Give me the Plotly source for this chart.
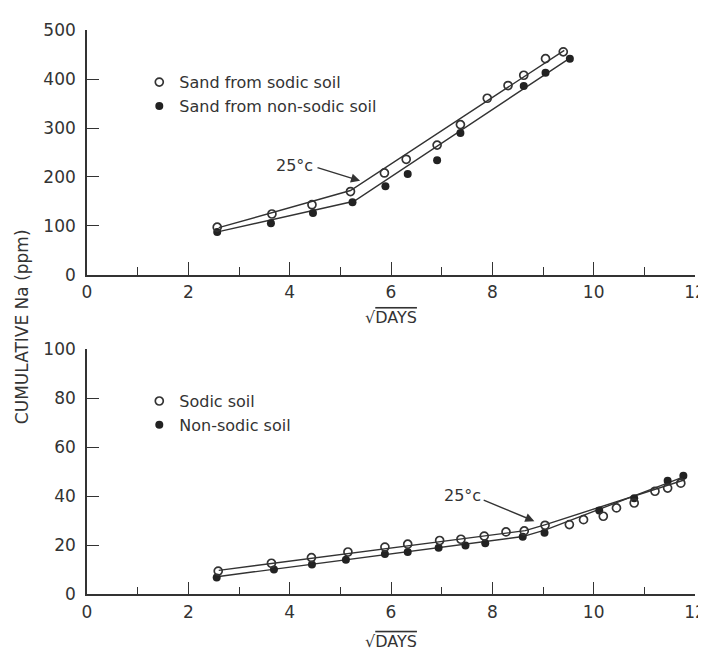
import plotly.graph_objects as go

# ---------------- data ----------------
# Top panel: sand
sand_sodic_x = [2.57, 3.65, 4.44, 5.20, 5.87, 6.30, 6.91, 7.37, 7.90, 8.31, 8.62, 9.05, 9.40]
sand_sodic_y = [97, 124, 143, 170, 208, 236, 265, 307, 361, 387, 408, 442, 456]
sand_non_x = [2.57, 3.63, 4.46, 5.24, 5.89, 6.33, 6.91, 7.37, 8.62, 9.05, 9.53]
sand_non_y = [87, 105, 126, 148, 181, 206, 234, 290, 386, 413, 442]
sand_sodic_fit_x = [2.6, 5.2, 9.42]
sand_sodic_fit_y = [96, 172, 459]
sand_non_fit_x = [2.6, 5.27, 9.53]
sand_non_fit_y = [88, 150, 443]

# Bottom panel: soil
soil_sodic_x = [2.59, 3.64, 4.43, 5.15, 5.88, 6.33, 6.96, 7.38, 7.84, 8.27, 8.63, 9.04,
                9.52, 9.80, 10.19, 10.45, 10.80, 11.21, 11.46, 11.72]
soil_sodic_y = [9.5, 12.7, 15.0, 17.3, 19.3, 20.5, 22.0, 22.5, 23.8, 25.5, 25.9, 28.2,
                28.5, 30.5, 31.9, 35.3, 37.3, 42.1, 43.4, 45.4]
soil_non_x = [2.56, 3.69, 4.44, 5.11, 5.88, 6.33, 6.94, 7.47, 7.86, 8.60, 9.03,
              10.11, 10.80, 11.46, 11.77]
soil_non_y = [6.9, 10.1, 12.2, 14.1, 16.5, 17.3, 19.0, 20.0, 20.9, 23.5, 25.2,
              34.2, 39.2, 46.4, 48.4]
soil_sodic_fit_x = [2.6, 8.65, 9.05, 11.8]
soil_sodic_fit_y = [9.8, 26.0, 28.5, 46.8]
soil_non_fit_x = [2.6, 8.6, 9.05, 11.8]
soil_non_fit_y = [7.3, 23.6, 26.3, 48.2]

x_ticks = [0, 2, 4, 6, 8, 10, 12]
top_y_ticks = [0, 100, 200, 300, 400, 500]
bot_y_ticks = [0, 20, 40, 60, 80, 100]

INK = "#333333"
FONT = "DejaVu Sans"

fig = go.Figure()

line_style = dict(color=INK, width=1.4)
open_marker = dict(symbol="circle-open", size=8, color=INK, line=dict(width=1.7, color=INK))
fill_marker = dict(symbol="circle", size=8, color="#222222")

# top panel
fig.add_trace(go.Scatter(x=sand_sodic_fit_x, y=sand_sodic_fit_y, mode="lines", line=line_style,
                         showlegend=False, xaxis="x", yaxis="y", hoverinfo="skip"))
fig.add_trace(go.Scatter(x=sand_non_fit_x, y=sand_non_fit_y, mode="lines", line=line_style,
                         showlegend=False, xaxis="x", yaxis="y", hoverinfo="skip"))
fig.add_trace(go.Scatter(x=sand_non_x, y=sand_non_y, mode="markers", marker=fill_marker,
                         name="Sand from non-sodic soil", xaxis="x", yaxis="y", legend="legend",
                         legendrank=2))
fig.add_trace(go.Scatter(x=sand_sodic_x, y=sand_sodic_y, mode="markers", marker=open_marker,
                         name="Sand from sodic soil", xaxis="x", yaxis="y", legend="legend",
                         legendrank=1))

# bottom panel
fig.add_trace(go.Scatter(x=soil_sodic_fit_x, y=soil_sodic_fit_y, mode="lines", line=line_style,
                         showlegend=False, xaxis="x2", yaxis="y2", hoverinfo="skip"))
fig.add_trace(go.Scatter(x=soil_non_fit_x, y=soil_non_fit_y, mode="lines", line=line_style,
                         showlegend=False, xaxis="x2", yaxis="y2", hoverinfo="skip"))
fig.add_trace(go.Scatter(x=soil_non_x, y=soil_non_y, mode="markers", marker=fill_marker,
                         name="Non-sodic soil", xaxis="x2", yaxis="y2", legend="legend2",
                         legendrank=2))
fig.add_trace(go.Scatter(x=soil_sodic_x, y=soil_sodic_y, mode="markers", marker=open_marker,
                         name="Sodic soil", xaxis="x2", yaxis="y2", legend="legend2",
                         legendrank=1))

DAYS_TITLE = "\u221a<span style='text-decoration:overline'>DAYS</span>"


def xaxis_cfg(standoff):
    return dict(
        range=[0, 12], tickvals=x_ticks, ticktext=[str(v) for v in x_ticks],
        ticks="inside", ticklen=13, tickwidth=1.4, tickcolor=INK,
        minor=dict(dtick=1, ticks="inside", ticklen=8, tickwidth=1.4, tickcolor=INK,
                   showgrid=False),
        showline=True, linecolor=INK, linewidth=1.6, showgrid=False, zeroline=False,
        tickfont=dict(family=FONT, size=17, color=INK), ticklabelstandoff=1,
        ticklabeloverflow="allow",
        title=dict(text=DAYS_TITLE, font=dict(family=FONT, size=16, color=INK),
                   standoff=standoff),
    )


yaxis_common = dict(
    ticks="inside", ticklen=12, tickwidth=1.4, tickcolor=INK,
    showline=True, linecolor=INK, linewidth=1.6, showgrid=False, zeroline=False,
    tickfont=dict(family=FONT, size=17, color=INK), ticklabelstandoff=6,
)

# page body has an 8px margin, so the figure is 698 x 649
fig.update_layout(
    width=698, height=649,
    margin=dict(l=79, r=0, t=0, b=0),
    paper_bgcolor="white", plot_bgcolor="white",
    font=dict(family=FONT, color=INK),
    xaxis=dict(domain=[0, 1], anchor="y", **xaxis_cfg(11)),
    yaxis=dict(domain=[0.5921, 0.9804], anchor="x", range=[0, 500], tickvals=top_y_ticks,
               **yaxis_common),
    xaxis2=dict(domain=[0, 1], anchor="y2", **xaxis_cfg(15)),
    yaxis2=dict(domain=[0.0837, 0.4730], anchor="x2", range=[0, 100], tickvals=bot_y_ticks,
                **yaxis_common),
    legend=dict(x=0.086, y=0.925, xanchor="left", yanchor="top", bgcolor="rgba(0,0,0,0)",
                font=dict(family=FONT, size=16, color=INK), traceorder="normal"),
    legend2=dict(x=0.086, y=0.418, xanchor="left", yanchor="top", bgcolor="rgba(0,0,0,0)",
                 font=dict(family=FONT, size=16, color=INK), traceorder="normal"),
    showlegend=True,
)

fig.add_annotation(text="CUMULATIVE Na (ppm)", xref="paper", yref="paper", x=-0.107, y=0.51,
                   xanchor="center", yanchor="middle",
                   textangle=-90, showarrow=False, font=dict(family=FONT, size=17, color=INK))

# 25°C arrows
fig.add_annotation(text="25\u00b0c", x=4.09, y=224, xref="x", yref="y", showarrow=False,
                   font=dict(family=FONT, size=16, color=INK))
fig.add_annotation(text="", x=5.39, y=192, ax=4.52, ay=220, xref="x", yref="y",
                   axref="x", ayref="y", showarrow=True, arrowhead=2, arrowsize=1.3,
                   arrowwidth=1.4, arrowcolor=INK)
fig.add_annotation(text="25\u00b0c", x=7.41, y=40.5, xref="x2", yref="y2", showarrow=False,
                   font=dict(family=FONT, size=16, color=INK))
fig.add_annotation(text="", x=8.83, y=29.9, ax=7.80, ay=38.7, xref="x2", yref="y2",
                   axref="x2", ayref="y2", showarrow=True, arrowhead=2, arrowsize=1.3,
                   arrowwidth=1.4, arrowcolor=INK)

fig.write_html("out.html")
